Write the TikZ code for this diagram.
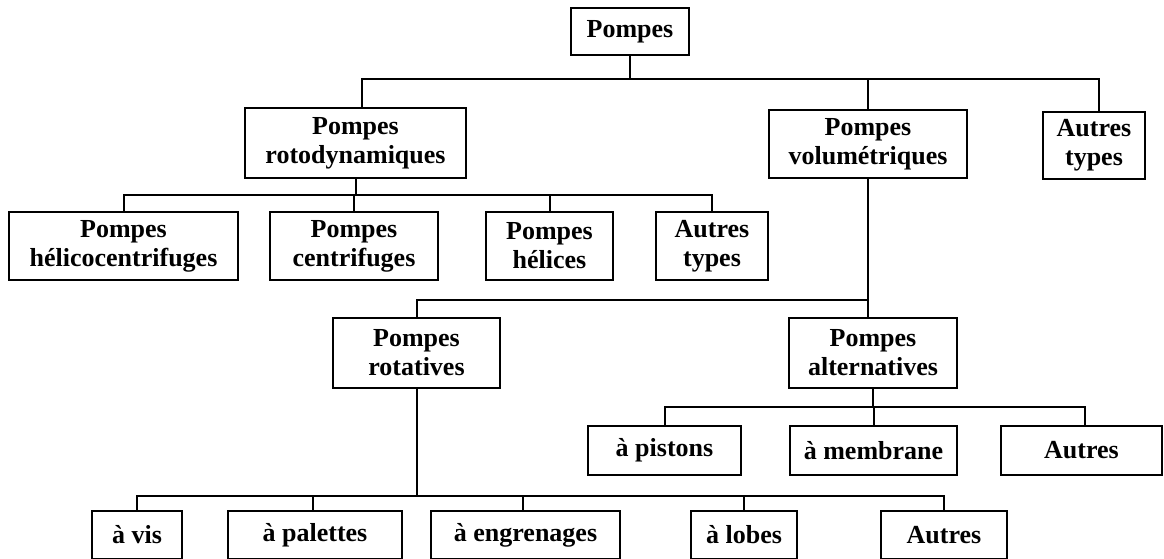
\documentclass[tikz,border=0pt]{standalone}
\usepackage{fontspec}
\setmainfont{Liberation Serif}
\begin{document}
\begin{tikzpicture}[x=1pt,y=-1pt,
  box/.style={draw, line width=2pt, inner sep=0pt, align=center,
    font=\fontsize{26}{29}\selectfont\bfseries},
  link/.style={line width=2pt}]
\useasboundingbox (0,0) rectangle (1164,559);
% level 0
\node[box, minimum width=118pt, minimum height=47pt] (pompes) at (630,31.5) {Pompes};
% level 1
\node[box, minimum width=221pt, minimum height=70pt] (roto) at (355.5,143) {Pompes\\rotodynamiques};
\node[box, minimum width=198pt, minimum height=68pt] (vol) at (868,144) {Pompes\\volumétriques};
\node[box, minimum width=102pt, minimum height=67pt] (aut1) at (1094,145.5) {Autres\\types};
% roto children
\node[box, minimum width=229pt, minimum height=68pt] (helico) at (123.5,246) {Pompes\\hélicocentrifuges};
\node[box, minimum width=168pt, minimum height=68pt] (centri) at (354,246) {Pompes\\centrifuges};
\node[box, minimum width=127pt, minimum height=68pt] (helices) at (549.5,246) {Pompes\\hélices};
\node[box, minimum width=112pt, minimum height=68pt] (aut2) at (712,246) {Autres\\types};
% vol children
\node[box, minimum width=167pt, minimum height=70pt] (rotat) at (416.5,353) {Pompes\\rotatives};
\node[box, minimum width=168pt, minimum height=70pt] (altern) at (873,353) {Pompes\\alternatives};
% altern children
\node[box, minimum width=153pt, minimum height=49pt] (pist) at (664.5,450.5) {à pistons};
\node[box, minimum width=167pt, minimum height=49pt] (memb) at (873.5,450.5) {à membrane};
\node[box, minimum width=161pt, minimum height=49pt] (aut3) at (1081.5,450.5) {Autres};
% rotatives children
\node[box, minimum width=90pt, minimum height=48pt] (vis) at (137,535) {à vis};
\node[box, minimum width=174pt, minimum height=48pt] (pal) at (315,535) {à palettes};
\node[box, minimum width=189pt, minimum height=48pt] (engr) at (525.5,535) {à engrenages};
\node[box, minimum width=106pt, minimum height=48pt] (lobes) at (744,535) {à lobes};
\node[box, minimum width=126pt, minimum height=48pt] (aut4) at (944,535) {Autres};
% junctions
\coordinate (j1) at (630,79);
\coordinate (j2) at (355.5,195);
\coordinate (j3) at (868,300);
\coordinate (j4) at (873,407);
\coordinate (j5) at (416.5,496);
% connectors
\draw[link] (pompes.south) -- (j1);
\draw[link] (j1) -| ([xshift=6.5pt]roto.north);
\draw[link] (j1) -| (vol.north);
\draw[link] (j1) -| ([xshift=5pt]aut1.north);
\draw[link] (roto.south) -- (j2);
\draw[link] (j2) -| (helico.north);
\draw[link] (j2) -| (centri.north);
\draw[link] (j2) -| (helices.north);
\draw[link] (j2) -| (aut2.north);
\draw[link] (vol.south) -- (vol.south |- altern.north);
\draw[link] (j3) -| (rotat.north);
\draw[link] (altern.south) -- (j4);
\draw[link] (j4) -| (pist.north);
\draw[link] (j4) -| (memb.north);
\draw[link] (j4) -| ([xshift=3.5pt]aut3.north);
\draw[link] (rotat.south) -- (j5);
\draw[link] (j5) -| (vis.north);
\draw[link] (j5) -| ([xshift=-2pt]pal.north);
\draw[link] (j5) -| ([xshift=-2.5pt]engr.north);
\draw[link] (j5) -| (lobes.north);
\draw[link] (j5) -| (aut4.north);
\end{tikzpicture}
\end{document}
